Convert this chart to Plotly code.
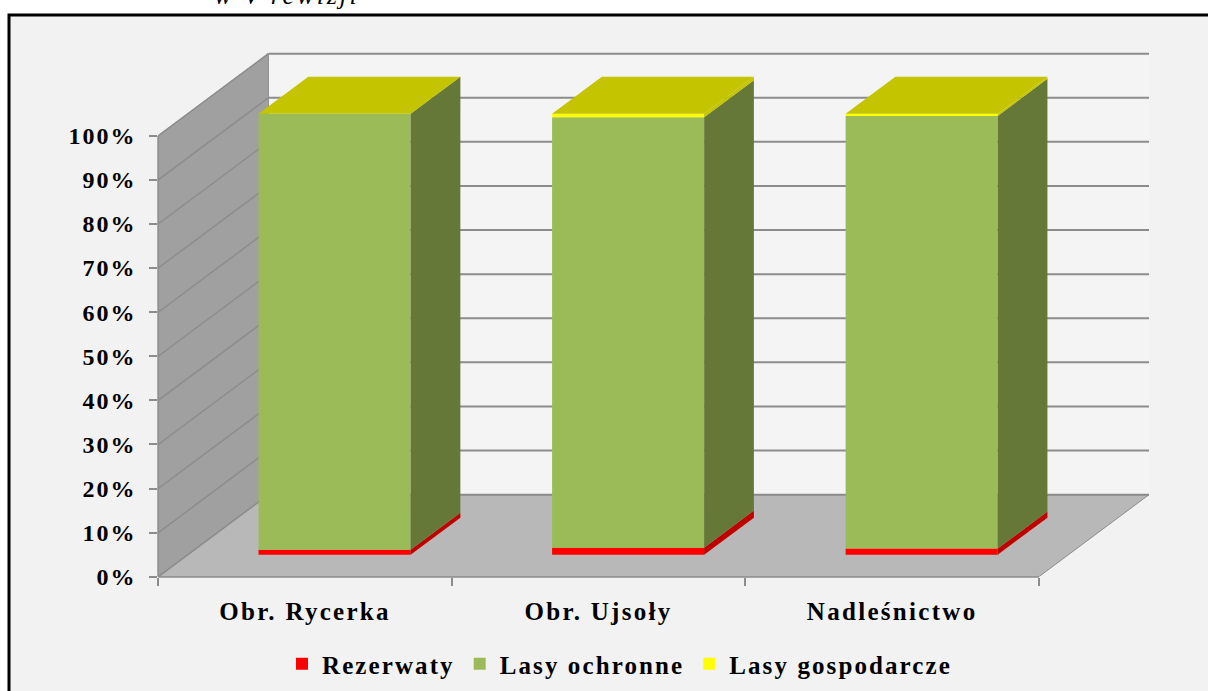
import plotly.graph_objects as go

categories = ["Obr. Rycerka", "Obr. Ujsoły", "Nadleśnictwo"]
rezerwaty = [1.1, 1.6, 1.4]
lasy_ochronne = [98.9, 97.6, 98.1]
lasy_gospodarcze = [0.0, 0.8, 0.5]
y_ticks = [0, 10, 20, 30, 40, 50, 60, 70, 80, 90, 100]
y_labels = [f"{v}%" for v in y_ticks]

W, H = 1208, 691
# projected depth of the 3-D box, in axis units
DEPTH_X = 0.375
DEPTH_Y = 18.6
BAR_W = 0.518
D0, D1 = 0.268, 0.72   # bars' front and back position in the depth
PX_L, PX_B = 158.3, 576.7
PER_PCT = 4.41
Y_TOP = 120.0

GRID = "#8C8C8C"
series = [("Rezerwaty", rezerwaty, "#FF0000", "#C00000"),
          ("Lasy ochronne", lasy_ochronne, "#9BBB59", "#667838"),
          ("Lasy gospodarcze", lasy_gospodarcze, "#FFFF00", "#C4C400")]
FONT = "Liberation Serif"
INK = "#000000"

def path(pts):
    return "M" + " L".join(f"{x},{y}" for x, y in pts) + " Z"

shapes = [dict(type="rect", xref="paper", yref="paper", layer="below",
               x0=9 / W, x1=1.02, y0=-0.02, y1=1 - 15 / H,
               fillcolor="#F2F2F2", line=dict(color="#000000", width=3))]
xa = 3 + DEPTH_X
shapes.append(dict(type="path", layer="below", xref="x", yref="y",
                   path=path([(DEPTH_X, DEPTH_Y), (xa, DEPTH_Y), (xa, 100 + DEPTH_Y), (DEPTH_X, 100 + DEPTH_Y)]),
                   fillcolor="#F4F4F4", line=dict(width=0)))
shapes.append(dict(type="path", layer="below", xref="x", yref="y",
                   path=path([(0, 0), (DEPTH_X, DEPTH_Y), (DEPTH_X, 100 + DEPTH_Y), (0, 100)]),
                   fillcolor="#A0A0A0", line=dict(color=GRID, width=1)))
shapes.append(dict(type="path", layer="below", xref="x", yref="y",
                   path=path([(0, 0), (3, 0), (xa, DEPTH_Y), (DEPTH_X, DEPTH_Y)]),
                   fillcolor="#B8B8B8", line=dict(color=GRID, width=1)))
for v in y_ticks:
    shapes.append(dict(type="line", layer="below", xref="x", yref="y",
                       x0=DEPTH_X, x1=xa, y0=v + DEPTH_Y, y1=v + DEPTH_Y,
                       line=dict(color=GRID, width=2)))
    shapes.append(dict(type="line", layer="below", xref="x", yref="y",
                       x0=0, x1=DEPTH_X, y0=v, y1=v + DEPTH_Y,
                       line=dict(color=GRID, width=1.5)))
# front edges of the box, which would otherwise be half clipped by the plot area
shapes.append(dict(type="line", layer="below", xref="x", yref="paper",
                   x0=0, x1=3, y0=1 - PX_B / H, y1=1 - PX_B / H, line=dict(color=GRID, width=2)))
shapes.append(dict(type="line", layer="below", xref="paper", yref="y",
                   x0=PX_L / W, x1=PX_L / W, y0=0, y1=100, line=dict(color=GRID, width=2)))

fig = go.Figure()
x_front = [i + 0.5 + D0 * DEPTH_X for i in range(len(categories))]
y_front = D0 * DEPTH_Y
bar_dx = (D1 - D0) * DEPTH_X
bar_dy = (D1 - D0) * DEPTH_Y

bottom = [y_front] * len(categories)
for name, values, colour, side in series:
    fig.add_trace(go.Bar(x=x_front, y=values, base=list(bottom), width=BAR_W, name=name,
                         marker=dict(color=colour, line=dict(width=0)), hoverinfo="skip"))
    for i, v in enumerate(values):
        if v <= 0:
            continue
        xr = x_front[i] + BAR_W / 2
        b, t = bottom[i], bottom[i] + v
        fig.add_trace(go.Scatter(x=[xr, xr + bar_dx, xr + bar_dx, xr, xr],
                                 y=[b, b + bar_dy, t + bar_dy, t, b],
                                 mode="lines", fill="toself", fillcolor=side,
                                 line=dict(width=0), showlegend=False, hoverinfo="skip"))
    bottom = [b + v for b, v in zip(bottom, values)]

for i, top in enumerate(bottom):
    xl, xr = x_front[i] - BAR_W / 2, x_front[i] + BAR_W / 2
    fig.add_trace(go.Scatter(x=[xl, xr, xr + bar_dx, xl + bar_dx, xl],
                             y=[top, top, top + bar_dy, top + bar_dy, top],
                             mode="lines", fill="toself", fillcolor="#C4C400",
                             line=dict(width=0), showlegend=False, hoverinfo="skip"))

fig.update_layout(
    width=W, height=H, autosize=False,
    margin=dict(l=0, r=0, t=0, b=0, autoexpand=False),
    paper_bgcolor="#FFFFFF", plot_bgcolor="rgba(0,0,0,0)",
    barmode="overlay", shapes=shapes,
    font=dict(family=FONT, color=INK),
    xaxis=dict(domain=[PX_L / W, 1149 / W], range=[0, xa], showgrid=False, zeroline=False,
               showline=False, tickmode="array", tickvals=[0.5, 1.5, 2.5], ticktext=categories,
               ticks="", ticklen=0, ticklabelstandoff=17,
               tickfont=dict(family=FONT, size=25, weight="bold", color=INK),
               minor=dict(tickmode="array", tickvals=[0, 1, 2, 3], ticks="outside", ticklen=8,
                          tickwidth=2, tickcolor=GRID, showgrid=False)),
    yaxis=dict(domain=[1 - PX_B / H, 1 - (PX_B - Y_TOP * PER_PCT) / H], range=[0, Y_TOP], showgrid=False,
               zeroline=False, showline=False, tickmode="array", tickvals=y_ticks, ticktext=y_labels,
               ticks="outside", ticklen=8, tickwidth=2, tickcolor=GRID,
               ticklabelstandoff=8,
               tickfont=dict(family=FONT, size=24, weight="bold", color=INK)),
    legend=dict(orientation="h", xref="container", yref="container",
                x=282 / W, xanchor="left", y=1 - 664 / H, yanchor="middle",
                bgcolor="rgba(0,0,0,0)", traceorder="normal",
                font=dict(family=FONT, size=25, weight="bold", color=INK)),
    annotations=[dict(text="<i>w V rewizji</i>", xref="paper", yref="paper", x=227 / W, y=1 - 12 / H,
                      xanchor="left", yanchor="bottom", showarrow=False,
                      font=dict(family=FONT, size=26, color="#000000"))],
)

post = """
document.body.style.margin='0';
var st=document.createElement('style');
st.textContent='.ytick text{letter-spacing:2px}.xtick text{letter-spacing:2.3px}.legendtext{letter-spacing:2.1px}.annotation-text{letter-spacing:2.7px}';
document.head.appendChild(st);
var gd=document.getElementsByClassName('plotly-graph-div')[0];
Plotly.relayout(gd,{'legend.font.size':25.01});
"""
fig.write_html("out.html", post_script=post, config=dict(displayModeBar=False))
